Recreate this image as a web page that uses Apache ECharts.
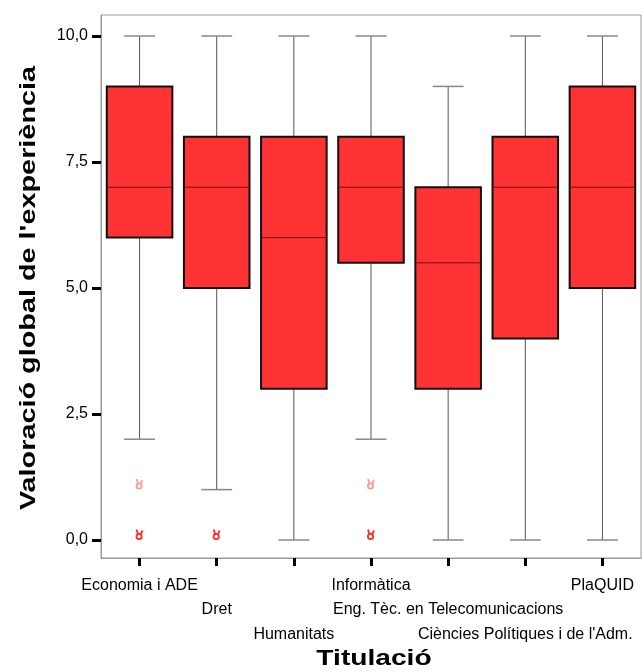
<!DOCTYPE html>
<html>
<head>
<meta charset="utf-8">
<script src="https://cdn.jsdelivr.net/npm/echarts@6/dist/echarts.min.js"></script>
<style>
html,body{margin:0;padding:0;background:#fff;}
#main{width:644px;height:672px;}
</style>
</head>
<body>
<div id="main"></div>
<script>
const categories = ['Economia i ADE', 'Dret', 'Humanitats', 'Informàtica', 'Eng. Tèc. en Telecomunicacions', 'Ciències Polítiques i de l\'Adm.', 'PlaQUID'];
const lowWhisker = [2, 1, 0, 2, 0, 0, 0];
const q1 = [6, 5, 3, 5.5, 3, 4, 5];
const median = [7, 7, 6, 7, 5.5, 7, 7];
const q3 = [9, 8, 8, 8, 7, 8, 9];
const highWhisker = [10, 10, 10, 10, 9, 10, 10];
const outliersStrong = [[0, 0], [1, 0], [3, 0]];
const outliersLight = [[0, 1], [3, 1]];
const yTicks = [0, 2.5, 5, 7.5, 10];
const xTitle = 'Titulació';
const yTitle = "Valoració global de l'experiència";

const boxData = categories.map((c, i) => [i, lowWhisker[i], q1[i], median[i], q3[i], highWhisker[i]]);

const chart = echarts.init(document.getElementById('main'));

function renderBox(params, api) {
  const i = api.value(0);
  const band = api.size([1, 0])[0];
  const pLow = api.coord([i, api.value(1)]);
  const pQ1 = api.coord([i, api.value(2)]);
  const pMed = api.coord([i, api.value(3)]);
  const pQ3 = api.coord([i, api.value(4)]);
  const pHigh = api.coord([i, api.value(5)]);
  const x = pMed[0];
  const bw = band * 0.85;
  const cw = band * 0.4;
  return {
    type: 'group',
    children: [
      {type: 'line', shape: {x1: x, y1: pLow[1], x2: x, y2: pQ1[1]}, style: {stroke: '#555', lineWidth: 1}},
      {type: 'line', shape: {x1: x, y1: pQ3[1], x2: x, y2: pHigh[1]}, style: {stroke: '#555', lineWidth: 1}},
      {type: 'line', shape: {x1: x - cw / 2, y1: pLow[1], x2: x + cw / 2, y2: pLow[1]}, style: {stroke: '#888', lineWidth: 1.5}},
      {type: 'line', shape: {x1: x - cw / 2, y1: pHigh[1], x2: x + cw / 2, y2: pHigh[1]}, style: {stroke: '#888', lineWidth: 1.5}},
      {type: 'rect', shape: {x: x - bw / 2, y: pQ3[1], width: bw, height: pQ1[1] - pQ3[1]}, style: {fill: '#ff3333', stroke: '#111', lineWidth: 2}},
      {type: 'line', shape: {x1: x - bw / 2 + 1, y1: pMed[1], x2: x + bw / 2 - 1, y2: pMed[1]}, style: {stroke: '#6e1010', lineWidth: 1}}
    ]
  };
}

function renderOutlier(color) {
  return function (params, api) {
    const p = api.coord([api.value(0), api.value(1)]);
    const cx = p[0];
    const cy = p[1] - 5;
    return {
      type: 'group',
      children: [
        {type: 'circle', shape: {cx: cx - 0.5, cy: cy + 1.5, r: 2.6}, style: {fill: 'none', stroke: color, lineWidth: 1.8}},
        {type: 'line', shape: {x1: cx - 1.5, y1: cy - 0.5, x2: cx - 3, y2: cy - 5.5}, style: {stroke: color, lineWidth: 1.8}},
        {type: 'line', shape: {x1: cx + 1, y1: cy - 0.5, x2: cx + 3, y2: cy - 4.5}, style: {stroke: color, lineWidth: 1.8}}
      ]
    };
  };
}

chart.setOption({
  animation: false,
  backgroundColor: '#fff',
  grid: {left: 101, right: 3, top: 15, bottom: 114, show: true, borderColor: '#999', borderWidth: 1},
  xAxis: {
    type: 'category',
    data: categories,
    boundaryGap: true,
    axisLine: {show: true, onZero: false, lineStyle: {color: '#999', width: 1}},
    axisTick: {show: true, alignWithLabel: true, length: 8, lineStyle: {color: '#000', width: 3}},
    axisLabel: {
      interval: 0,
      margin: 15,
      fontFamily: 'Liberation Sans, Arial, sans-serif',
      fontSize: 16,
      lineHeight: 24.5,
      color: '#000',
      formatter: function (v, idx) { return '\n'.repeat(idx % 3) + v; }
    },
    splitLine: {show: false}
  },
  yAxis: {
    type: 'value',
    min: -0.357,
    max: 10.417,
    axisLine: {show: true, lineStyle: {color: '#999', width: 1}},
    axisTick: {show: true, customValues: yTicks, length: 9, lineStyle: {color: '#000', width: 3}},
    axisLabel: {
      customValues: yTicks,
      margin: 13,
      fontFamily: 'Liberation Sans, Arial, sans-serif',
      fontSize: 16,
      color: '#000',
      formatter: function (v) { return v.toFixed(1).replace('.', ','); }
    },
    splitLine: {show: false}
  },
  graphic: [
    {type: 'text', x: 374, y: 659, scaleX: 1.28, style: {text: xTitle, font: 'bold 22px "Liberation Sans", Arial, sans-serif', fill: '#000', align: 'center', verticalAlign: 'middle'}},
    {type: 'text', x: 29, y: 288, rotation: Math.PI / 2, scaleX: 1.31, style: {text: yTitle, font: 'bold 22px "Liberation Sans", Arial, sans-serif', fill: '#000', align: 'center', verticalAlign: 'middle'}}
  ],
  series: [
    {type: 'custom', renderItem: renderBox, data: boxData, encode: {x: 0, y: [1, 5]}, z: 2},
    {type: 'custom', renderItem: renderOutlier('#ff2a2a'), data: outliersStrong, encode: {x: 0, y: 1}, z: 3},
    {type: 'custom', renderItem: renderOutlier('#ff9a9a'), data: outliersLight, encode: {x: 0, y: 1}, z: 3}
  ]
});
</script>
</body>
</html>
